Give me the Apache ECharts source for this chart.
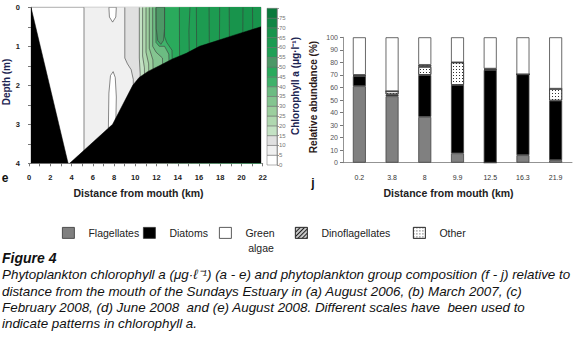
<!DOCTYPE html>
<html><head><meta charset="utf-8">
<script src="https://cdn.jsdelivr.net/npm/echarts@6/dist/echarts.min.js"></script>
<style>html,body{margin:0;padding:0;background:#fff}#c{width:579px;height:349px}</style>
</head><body><div id="c"></div>
<script>
// ---------- Panel e: chlorophyll a contour (August 2008) ----------
const distanceTicks = [0, 2, 4, 6, 8, 10, 12, 14, 16, 18, 20, 22];
const depthTicks = [0, 1, 2, 3, 4];
const colorLevels = [0, 5, 10, 15, 20, 25, 30, 35, 40, 45, 50, 55, 60, 65, 70, 75];
const colorbarColors = ['#ffffff', '#f0f0f0', '#e0e0e0', '#c4e2c4', '#b0d8b0', '#9ccf9e', '#84c590', '#6cbc82',
  '#3fb26a', '#2aaa5c', '#4d9866', '#21a055', '#1d9b51', '#18944c', '#108544', '#0b793c'];
// contour boundaries: [distance km, depth m]; value >= level to the right
const contourLevels = [5, 10, 15, 20, 25, 30, 35, 40, 45, 55, 55, 60, 60, 60, 65, 65, 65];
const contourEdges = [
  [[5.2, 0], [5.2, 4]],
  [[9.05, 0], [9.05, 1.3], [9.3, 1.45], [9.65, 1.6], [9.85, 1.85], [9.9, 4]],
  [[10.42, 0], [10.42, 1.3], [10.5, 1.7], [10.5, 4]],
  [[10.73, 0], [10.73, 1.25], [10.9, 1.55], [11.0, 4]],
  [[11.05, 0], [11.05, 1.15], [11.3, 1.45], [11.4, 4]],
  [[11.36, 0], [11.36, 1.05], [11.7, 1.35], [11.9, 4]],
  [[11.68, 0], [11.68, 1.0], [12.0, 1.15], [12.6, 1.3], [12.9, 4]],
  [[11.99, 0], [11.99, 0.9], [12.3, 1.0], [12.8, 1.0], [13.2, 1.2], [13.5, 4]],
  [[12.8, 0], [12.8, 0.75], [13.0, 0.9], [13.5, 1.1], [13.8, 4]],
  [[14.2, 0], [14.25, 4]],
  [[15.2, 0], [15.1, 0.6], [15.3, 4]],
  [[15.8, 0], [15.9, 4]],
  [[17.0, 0], [17.1, 4]],
  [[18.0, 0], [17.9, 4]],
  [[18.9, 0], [19.0, 4]],
  [[20.2, 0], [20.1, 4]],
  [[21.1, 0], [21.2, 4]]
];
// closed contour patches
const patchLevels = [0, 0, 50];
const patchOutlines = [
  [[7.55, 0], [7.6, 0.25], [7.9, 0.38], [8.2, 0.25], [8.25, 0]],
  [[7.5, 3.1], [7.55, 2.2], [7.7, 1.75], [7.95, 1.65], [8.15, 1.8], [8.25, 2.3], [8.2, 3.0]],
  [[12.0, 0], [12.02, 0.55], [12.15, 0.85], [12.45, 0.95], [12.7, 0.85], [12.8, 0.55], [12.8, 0]]
];
// river bed (bathymetry)
const bedLeft = [[0.2, 0], [3.7, 4], [0.2, 4]];
const bedRight = [[3.85, 4], [7.9, 3.0], [9.8, 2.0], [10.4, 1.8], [11.2, 1.65], [12.3, 1.5], [13.5, 1.33],
  [14.85, 1.18], [16.1, 1.0], [17.5, 0.88], [19.3, 0.72], [21.9, 0.5], [21.9, 4]];

// ---------- Panel j: group composition ----------
const stations = ['0.2', '3.8', '8', '9.9', '12.5', '16.3', '21.9'];
const flagellates = [61, 53, 36.5, 7.5, 0, 6, 2];
const diatoms = [8, 1.5, 33.5, 54.5, 74, 64.5, 47.5];
const other = [0.5, 2.5, 6.5, 18, 0.5, 0, 9.5];
const dinoflagellates = [0.5, 0, 1.5, 0, 0.5, 0, 0];
const greenAlgae = stations.map((s, i) => 100 - flagellates[i] - diatoms[i] - other[i] - dinoflagellates[i]);

function levelColor(lv) { return colorbarColors[colorLevels.indexOf(lv)]; }

const F = 'Liberation Sans, Arial, sans-serif';
const chart = echarts.init(document.getElementById('c'), null, {renderer: 'svg'});

const axisGray = '#777';
const dotDecal = {symbol: 'rect', symbolSize: 1, color: '#333', dashArrayX: [1, 2], dashArrayY: [1, 2], rotation: 0};
const hatchDecal = {symbol: 'rect', symbolSize: 1, color: '#222', dashArrayX: [1, 0], dashArrayY: [1, 2], rotation: -Math.PI / 4};
const barBorder = {borderColor: '#444', borderWidth: 0.8};

function label(text, x, y, size, opts) {
  return {type: 'text', x: x, y: y, rotation: (opts && opts.rot) || 0,
    style: Object.assign({text: text, fill: '#222', fontFamily: F, fontSize: size, align: 'center', verticalAlign: 'middle'}, (opts && opts.style) || {})};
}

const option = {
  animation: false,
  backgroundColor: '#fff',
  grid: [
    {left: 31, top: 7.3, width: 230, height: 156, show: true, borderColor: '#999', borderWidth: 0.8, backgroundColor: 'transparent'},
    {left: 29.1, top: 7.3, width: 233.6, height: 156},
    {left: 267, top: 8.3, width: 10, height: 156.7},
    {left: 343, top: 37.3, width: 229, height: 125.4}
  ],
  xAxis: [
    {gridIndex: 0, type: 'value', min: 0.2, max: 21.9, show: false},
    {gridIndex: 1, type: 'value', min: 0, max: 22, interval: 2,
      axisLine: {show: true, lineStyle: {color: axisGray, width: 0.8}},
      axisTick: {show: true, length: 3, lineStyle: {color: axisGray}},
      minorTick: {show: true, splitNumber: 2, length: 3, lineStyle: {color: axisGray}},
      splitLine: {show: false},
      axisLabel: {fontFamily: F, fontSize: 7.5, fontWeight: 'bold', color: '#222', margin: 10,
        customValues: distanceTicks}},
    {gridIndex: 2, type: 'category', data: ['c'], show: false},
    {gridIndex: 3, type: 'category', data: stations,
      axisLine: {lineStyle: {color: axisGray, width: 0.8}},
      axisTick: {length: 3, lineStyle: {color: axisGray}},
      axisLabel: {fontFamily: F, fontSize: 7, color: '#333', margin: 11}}
  ],
  yAxis: [
    {gridIndex: 0, type: 'value', inverse: true, min: 0, max: 4, interval: 1,
      axisLine: {show: true, lineStyle: {color: axisGray, width: 0.8}},
      axisTick: {show: true, length: 3, lineStyle: {color: axisGray}},
      minorTick: {show: true, splitNumber: 2, length: 3, lineStyle: {color: axisGray}},
      splitLine: {show: false},
      axisLabel: {fontFamily: F, fontSize: 7.5, fontWeight: 'bold', color: '#222', margin: 11,
        customValues: depthTicks}},
    {gridIndex: 1, type: 'value', min: 0, max: 4, show: false},
    {gridIndex: 2, type: 'value', min: 0, max: 80, interval: 5, position: 'right',
      axisLine: {show: true, lineStyle: {color: '#999', width: 0.8}},
      axisTick: {show: true, length: 2, lineStyle: {color: '#999'}},
      splitLine: {show: false},
      axisLabel: {fontFamily: F, fontSize: 6, color: '#777', margin: 2, padding: [0, 0, 3, 0],
        formatter: v => (v === 80 ? '' : String(v))}},
    {gridIndex: 3, type: 'value', min: 0, max: 100, interval: 10,
      axisLine: {show: true, lineStyle: {color: axisGray, width: 0.8}},
      axisTick: {show: true, length: 3, lineStyle: {color: axisGray}},
      splitLine: {show: false},
      axisLabel: {fontFamily: F, fontSize: 7, color: '#555', margin: 5}}
  ],
  legend: [
    {data: ['Flagellates'], left: 62},
    {data: ['Diatoms'], left: 143},
    {data: ['Green algae'], left: 219, formatter: () => 'Green'},
    {data: ['Dinoflagellates'], left: 295},
    {data: ['Other'], left: 413}
  ].map(l => Object.assign({top: 227, padding: 0, itemWidth: 12, itemHeight: 11, icon: 'rect',
    itemStyle: {borderColor: '#333', borderWidth: 0.8},
    textStyle: {fontFamily: F, fontSize: 10.5, color: '#222', padding: [0, 0, 0, 9]}}, l)),
  series: [
    {type: 'custom', xAxisIndex: 0, yAxisIndex: 0, clip: true, silent: true,
      data: contourEdges.map(e => e[0]),
      renderItem: (params, api) => {
        const edge = contourEdges[params.dataIndex];
        const pts = edge.map(p => api.coord(p));
        const poly = pts.concat([api.coord([21.9, 4]), api.coord([21.9, 0])]);
        return {type: 'group', children: [
          {type: 'polygon', shape: {points: poly}, style: {fill: levelColor(contourLevels[params.dataIndex]), stroke: null}},
          {type: 'polyline', shape: {points: pts}, style: {fill: null, stroke: '#3a3a3a', lineWidth: 0.6}}
        ]};
      }},
    {type: 'custom', xAxisIndex: 0, yAxisIndex: 0, clip: true, silent: true,
      data: patchOutlines.map(e => e[0]),
      renderItem: (params, api) => {
        const pts = patchOutlines[params.dataIndex].map(p => api.coord(p));
        return {type: 'polygon', shape: {points: pts},
          style: {fill: levelColor(patchLevels[params.dataIndex]), stroke: '#3a3a3a', lineWidth: 0.6}};
      }},
    {type: 'custom', xAxisIndex: 0, yAxisIndex: 0, clip: true, silent: true,
      data: [bedLeft[0], bedRight[0]],
      renderItem: (params, api) => {
        const src = params.dataIndex === 0 ? bedLeft : bedRight;
        return {type: 'polygon', shape: {points: src.map(p => api.coord(p))}, style: {fill: '#000', stroke: '#000', lineWidth: 0.5}};
      }},
    {type: 'custom', xAxisIndex: 2, yAxisIndex: 2, silent: true,
      data: colorLevels.map(lv => [0, lv]),
      renderItem: (params, api) => {
        const lv = colorLevels[params.dataIndex];
        const top = api.coord([0, lv + 5]);
        const bot = api.coord([0, lv]);
        const w = api.size([1, 0])[0];
        return {type: 'rect', shape: {x: top[0] - w / 2, y: top[1], width: w, height: bot[1] - top[1]},
          style: {fill: colorbarColors[params.dataIndex], stroke: '#666', lineWidth: 0.5}};
      }},
    {name: 'Flagellates', type: 'bar', xAxisIndex: 3, yAxisIndex: 3, stack: 'g', barWidth: 13, data: flagellates,
      itemStyle: Object.assign({color: '#808080'}, barBorder)},
    {name: 'Diatoms', type: 'bar', xAxisIndex: 3, yAxisIndex: 3, stack: 'g', barWidth: 13, data: diatoms,
      itemStyle: Object.assign({color: '#000'}, barBorder)},
    {name: 'Other', type: 'bar', xAxisIndex: 3, yAxisIndex: 3, stack: 'g', barWidth: 13, data: other,
      itemStyle: Object.assign({color: '#fff', decal: dotDecal}, barBorder)},
    {name: 'Dinoflagellates', type: 'bar', xAxisIndex: 3, yAxisIndex: 3, stack: 'g', barWidth: 13, data: dinoflagellates,
      itemStyle: Object.assign({color: '#c8c8c8', decal: hatchDecal}, barBorder)},
    {name: 'Green algae', type: 'bar', xAxisIndex: 3, yAxisIndex: 3, stack: 'g', barWidth: 13, data: greenAlgae,
      itemStyle: Object.assign({color: '#fff'}, barBorder)}
  ],
  graphic: [
    label('August 2008', 257, 153, 13, {style: {fill: '#fff', fontWeight: 'bold', align: 'right'}}),
    label('e', 5, 178, 12, {style: {fontWeight: 'bold', fill: '#111'}}),
    label('Depth (m)', 6, 82, 10, {rot: Math.PI / 2, style: {fontWeight: 'bold', fill: '#1c2452'}}),
    label('Distance from mouth (km)', 138.5, 193, 10.5, {style: {fontWeight: 'bold'}}),
    label('Chlorophyll a (μg·l⁻¹)', 295, 86, 10, {rot: Math.PI / 2, style: {fontWeight: 'bold', fill: '#1c2452'}}),
    label('Relative abundance (%)', 313, 97, 10, {rot: Math.PI / 2, style: {fontWeight: 'bold', fill: '#2a1818'}}),
    label('j', 313, 183, 12, {style: {fontWeight: 'bold', fill: '#111'}}),
    label('Distance from mouth (km)', 448.5, 193, 10.5, {style: {fontWeight: 'bold'}}),
    label('algae', 261, 248, 10.5, {}),
    label('Figure 4', 2, 258, 14, {style: {fontWeight: 'bold', fontStyle: 'italic', fill: '#111', align: 'left'}}),
    label('Phytoplankton chlorophyll a (μg·ℓ⁻¹) (a - e) and phytoplankton group composition (f - j) relative to', 2, 274, 13.4, {style: {fontStyle: 'italic', fill: '#111', align: 'left'}}),
    label('distance from the mouth of the Sundays Estuary in (a) August 2006, (b) March 2007, (c)', 2, 291, 13.4, {style: {fontStyle: 'italic', fill: '#111', align: 'left'}}),
    label('February 2008, (d) June 2008  and (e) August 2008. Different scales have  been used to', 2, 307, 13.4, {style: {fontStyle: 'italic', fill: '#111', align: 'left'}}),
    label('indicate patterns in chlorophyll a.', 2, 323, 13.4, {style: {fontStyle: 'italic', fill: '#111', align: 'left'}})
  ]
};
chart.setOption(option);
</script>
</body></html>
